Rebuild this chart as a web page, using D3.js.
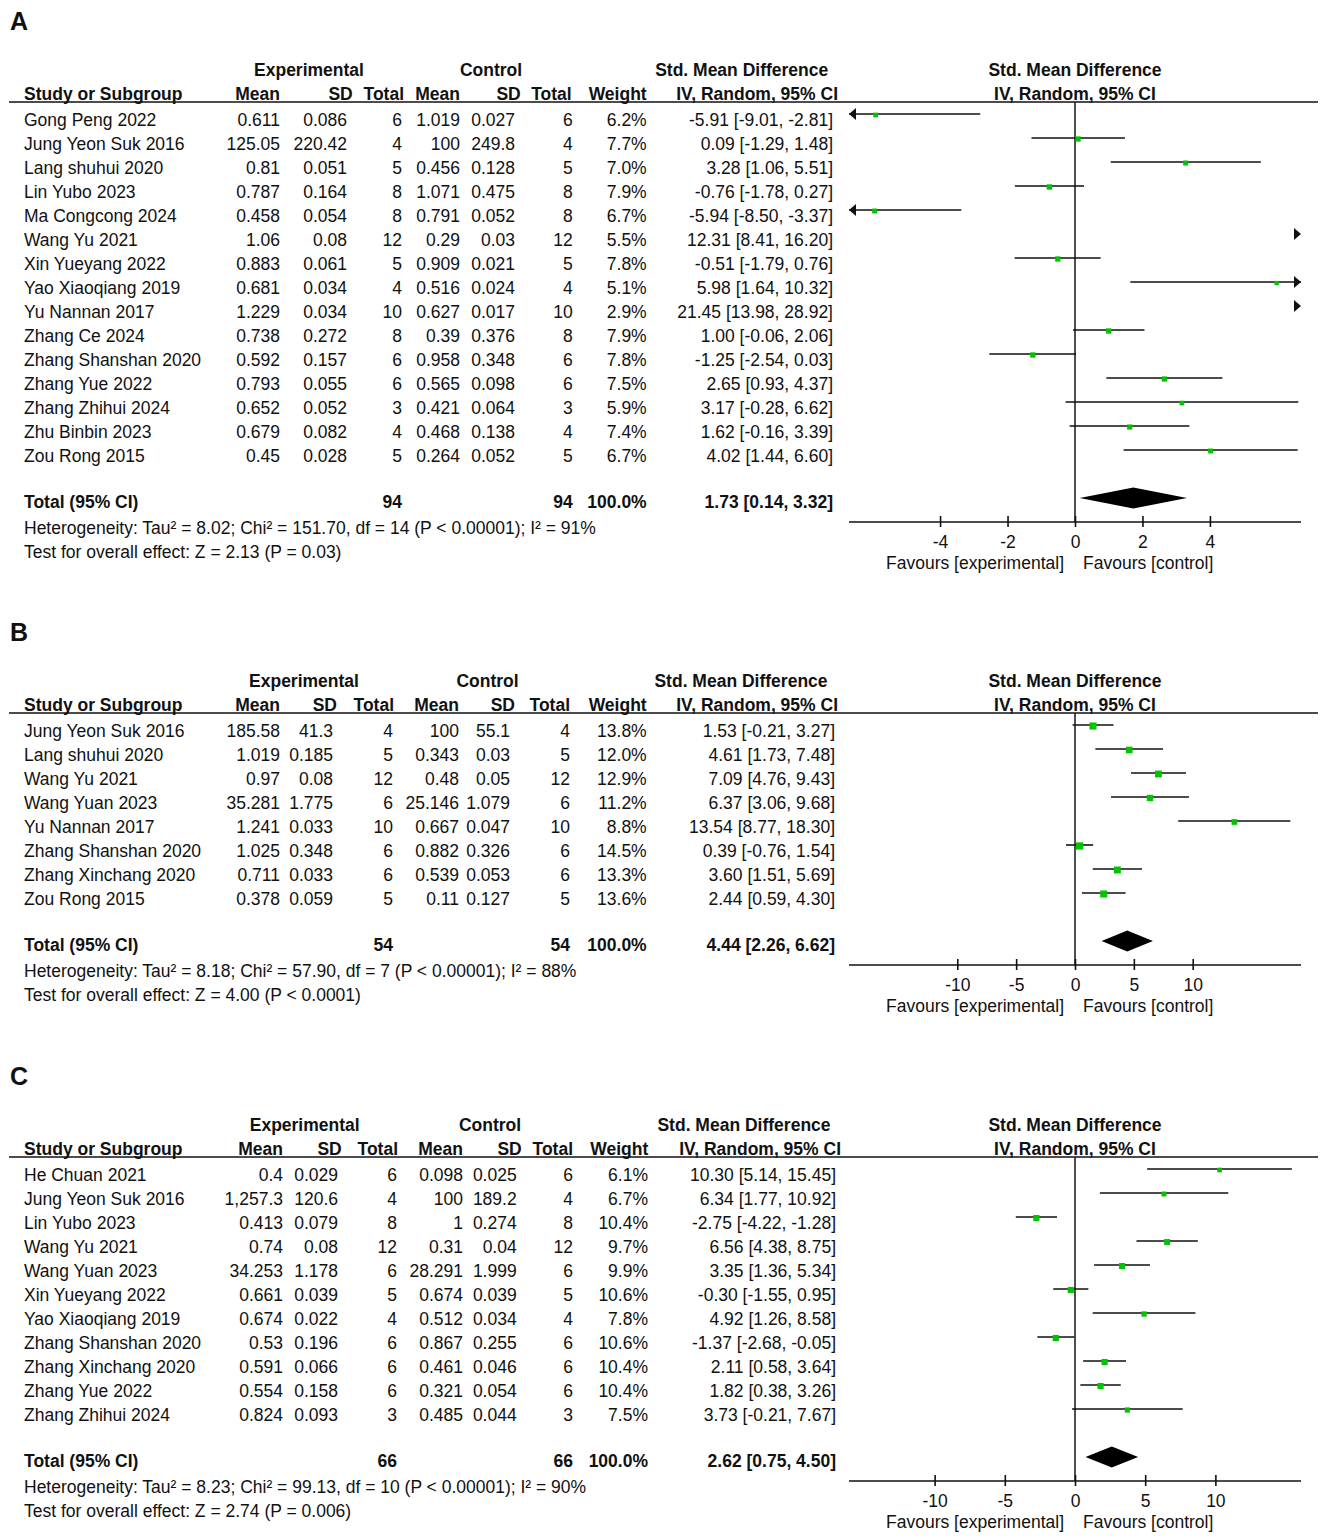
<!DOCTYPE html>
<html>
<head>
<meta charset="utf-8">
<script src="https://cdn.jsdelivr.net/npm/d3@7"></script>
<style>
  body { margin: 0; background: #fff; }
  svg { display: block; }
  text { font-family: "Liberation Sans", Arial, sans-serif; font-size: 17.5px; fill: #111; }
  .b { font-weight: bold; }
</style>
</head>
<body>
<svg width="1325" height="1538"></svg>
<script>
// ---- panel A data
const studiesA = ['Gong Peng 2022', 'Jung Yeon Suk 2016', 'Lang shuhui 2020', 'Lin Yubo 2023', 'Ma Congcong 2024',
  'Wang Yu 2021', 'Xin Yueyang 2022', 'Yao Xiaoqiang 2019', 'Yu Nannan 2017', 'Zhang Ce 2024',
  'Zhang Shanshan 2020', 'Zhang Yue 2022', 'Zhang Zhihui 2024', 'Zhu Binbin 2023', 'Zou Rong 2015'];
const expMeanA = [0.611, 125.05, 0.81, 0.787, 0.458, 1.06, 0.883, 0.681, 1.229, 0.738, 0.592, 0.793, 0.652, 0.679, 0.45];
const expSdA = [0.086, 220.42, 0.051, 0.164, 0.054, 0.08, 0.061, 0.034, 0.034, 0.272, 0.157, 0.055, 0.052, 0.082, 0.028];
const expNA = [6, 4, 5, 8, 8, 12, 5, 4, 10, 8, 6, 6, 3, 4, 5];
const ctlMeanA = [1.019, 100, 0.456, 1.071, 0.791, 0.29, 0.909, 0.516, 0.627, 0.39, 0.958, 0.565, 0.421, 0.468, 0.264];
const ctlSdA = [0.027, 249.8, 0.128, 0.475, 0.052, 0.03, 0.021, 0.024, 0.017, 0.376, 0.348, 0.098, 0.064, 0.138, 0.052];
const ctlNA = [6, 4, 5, 8, 8, 12, 5, 4, 10, 8, 6, 6, 3, 4, 5];
const weightA = [6.2, 7.7, 7.0, 7.9, 6.7, 5.5, 7.8, 5.1, 2.9, 7.9, 7.8, 7.5, 5.9, 7.4, 6.7];
const smdA = [-5.91, 0.09, 3.28, -0.76, -5.94, 12.31, -0.51, 5.98, 21.45, 1.00, -1.25, 2.65, 3.17, 1.62, 4.02];
const loA = [-9.01, -1.29, 1.06, -1.78, -8.50, 8.41, -1.79, 1.64, 13.98, -0.06, -2.54, 0.93, -0.28, -0.16, 1.44];
const hiA = [-2.81, 1.48, 5.51, 0.27, -3.37, 16.20, 0.76, 10.32, 28.92, 2.06, 0.03, 4.37, 6.62, 3.39, 6.60];
const totalA = [94, 94, 100.0, 1.73, 0.14, 3.32];
const hetA = 'Heterogeneity: Tau² = 8.02; Chi² = 151.70, df = 14 (P < 0.00001); I² = 91%';
const testA = 'Test for overall effect: Z = 2.13 (P = 0.03)';
const ticksA = [-4, -2, 0, 2, 4];

// ---- panel B data
const studiesB = ['Jung Yeon Suk 2016', 'Lang shuhui 2020', 'Wang Yu 2021', 'Wang Yuan 2023', 'Yu Nannan 2017',
  'Zhang Shanshan 2020', 'Zhang Xinchang 2020', 'Zou Rong 2015'];
const expMeanB = [185.58, 1.019, 0.97, 35.281, 1.241, 1.025, 0.711, 0.378];
const expSdB = [41.3, 0.185, 0.08, 1.775, 0.033, 0.348, 0.033, 0.059];
const expNB = [4, 5, 12, 6, 10, 6, 6, 5];
const ctlMeanB = [100, 0.343, 0.48, 25.146, 0.667, 0.882, 0.539, 0.11];
const ctlSdB = [55.1, 0.03, 0.05, 1.079, 0.047, 0.326, 0.053, 0.127];
const ctlNB = [4, 5, 12, 6, 10, 6, 6, 5];
const weightB = [13.8, 12.0, 12.9, 11.2, 8.8, 14.5, 13.3, 13.6];
const smdB = [1.53, 4.61, 7.09, 6.37, 13.54, 0.39, 3.60, 2.44];
const loB = [-0.21, 1.73, 4.76, 3.06, 8.77, -0.76, 1.51, 0.59];
const hiB = [3.27, 7.48, 9.43, 9.68, 18.30, 1.54, 5.69, 4.30];
const totalB = [54, 54, 100.0, 4.44, 2.26, 6.62];
const hetB = 'Heterogeneity: Tau² = 8.18; Chi² = 57.90, df = 7 (P < 0.00001); I² = 88%';
const testB = 'Test for overall effect: Z = 4.00 (P < 0.0001)';
const ticksB = [-10, -5, 0, 5, 10];

// ---- panel C data
const studiesC = ['He Chuan 2021', 'Jung Yeon Suk 2016', 'Lin Yubo 2023', 'Wang Yu 2021', 'Wang Yuan 2023',
  'Xin Yueyang 2022', 'Yao Xiaoqiang 2019', 'Zhang Shanshan 2020', 'Zhang Xinchang 2020', 'Zhang Yue 2022',
  'Zhang Zhihui 2024'];
const expMeanC = [0.4, 1257.3, 0.413, 0.74, 34.253, 0.661, 0.674, 0.53, 0.591, 0.554, 0.824];
const expSdC = [0.029, 120.6, 0.079, 0.08, 1.178, 0.039, 0.022, 0.196, 0.066, 0.158, 0.093];
const expNC = [6, 4, 8, 12, 6, 5, 4, 6, 6, 6, 3];
const ctlMeanC = [0.098, 100, 1, 0.31, 28.291, 0.674, 0.512, 0.867, 0.461, 0.321, 0.485];
const ctlSdC = [0.025, 189.2, 0.274, 0.04, 1.999, 0.039, 0.034, 0.255, 0.046, 0.054, 0.044];
const ctlNC = [6, 4, 8, 12, 6, 5, 4, 6, 6, 6, 3];
const weightC = [6.1, 6.7, 10.4, 9.7, 9.9, 10.6, 7.8, 10.6, 10.4, 10.4, 7.5];
const smdC = [10.30, 6.34, -2.75, 6.56, 3.35, -0.30, 4.92, -1.37, 2.11, 1.82, 3.73];
const loC = [5.14, 1.77, -4.22, 4.38, 1.36, -1.55, 1.26, -2.68, 0.58, 0.38, -0.21];
const hiC = [15.45, 10.92, -1.28, 8.75, 5.34, 0.95, 8.58, -0.05, 3.64, 3.26, 7.67];
const totalC = [66, 66, 100.0, 2.62, 0.75, 4.50];
const hetC = 'Heterogeneity: Tau² = 8.23; Chi² = 99.13, df = 10 (P < 0.00001); I² = 90%';
const testC = 'Test for overall effect: Z = 2.74 (P = 0.006)';
const ticksC = [-10, -5, 0, 5, 10];

const svg = d3.select('svg');
const green = '#00c400';
const numFmt = d3.format(',');
const f2 = v => v.toFixed(2); // plain hyphen minus, like RevMan
const ciText = (e, l, h) => `${f2(e)} [${f2(l)}, ${f2(h)}]`;

function drawPanel(p) {
  const H = p.top; // header line y
  const g = svg.append('g');
  const x = d3.scaleLinear().domain([-p.dom, p.dom]).range([849, 1301]);
  const n = p.studies.length;
  const rowBase = i => H + 25 + 24 * i;
  const totBase = rowBase(n - 1) + 46;
  const axisY = totBase + 14;

  g.append('text').attr('class', 'b').attr('x', 10).attr('y', H - 71)
    .style('font-size', '25px').text(p.letter);

  // group headers
  g.append('text').attr('class', 'b').attr('x', p.grp[0]).attr('y', H - 25).attr('text-anchor', 'middle').text('Experimental');
  g.append('text').attr('class', 'b').attr('x', p.grp[1]).attr('y', H - 25).attr('text-anchor', 'middle').text('Control');
  g.append('text').attr('class', 'b').attr('x', p.grp[2]).attr('y', H - 25).attr('text-anchor', 'middle').text('Std. Mean Difference');
  g.append('text').attr('class', 'b').attr('x', 1075).attr('y', H - 25).attr('text-anchor', 'middle').text('Std. Mean Difference');

  // column headers
  g.append('text').attr('class', 'b').attr('x', 24).attr('y', H - 1).text('Study or Subgroup');
  ['Mean', 'SD', 'Total', 'Mean', 'SD', 'Total', 'Weight'].forEach((t, k) => {
    g.append('text').attr('class', 'b').attr('x', p.hdr[k]).attr('y', H - 1).attr('text-anchor', 'end').text(t);
  });
  g.append('text').attr('class', 'b').attr('x', p.hdr[7]).attr('y', H - 1).attr('text-anchor', 'end').text('IV, Random, 95% CI');
  g.append('text').attr('class', 'b').attr('x', 1075).attr('y', H - 1).attr('text-anchor', 'middle').text('IV, Random, 95% CI');

  g.append('line').attr('x1', 9).attr('x2', 1318).attr('y1', H + 1).attr('y2', H + 1)
    .attr('stroke', '#111').attr('stroke-width', 1.6);

  // study rows (table)
  p.studies.forEach((s, i) => {
    const y = rowBase(i);
    const cells = [numFmt(p.em[i]), numFmt(p.es[i]), p.en[i], numFmt(p.cm[i]), numFmt(p.cs[i]), p.cn[i],
      p.w[i].toFixed(1) + '%', ciText(p.smd[i], p.lo[i], p.hi[i])];
    g.append('text').attr('x', 24).attr('y', y).text(s);
    cells.forEach((c, k) => {
      g.append('text').attr('x', p.col[k]).attr('y', y).attr('text-anchor', 'end').text(c);
    });
  });

  // total row
  g.append('text').attr('class', 'b').attr('x', 24).attr('y', totBase).text('Total (95% CI)');
  [[2, p.total[0]], [5, p.total[1]], [6, p.total[2].toFixed(1) + '%'],
   [7, ciText(p.total[3], p.total[4], p.total[5])]].forEach(([k, t]) => {
    g.append('text').attr('class', 'b').attr('x', p.col[k]).attr('y', totBase).attr('text-anchor', 'end').text(t);
  });
  g.append('text').attr('x', 24).attr('y', totBase + 26).text(p.het);
  g.append('text').attr('x', 24).attr('y', totBase + 50).text(p.test);

  // zero line
  g.append('line').attr('x1', x(0)).attr('x2', x(0)).attr('y1', H + 1).attr('y2', axisY)
    .attr('stroke', '#222').attr('stroke-width', 1.6);

  // CI lines, squares, arrows
  const D = p.dom;
  const arrow = (xe, y, dir) => `M${xe},${y} L${xe - dir * 7},${y - 6} L${xe - dir * 7},${y + 6} Z`;
  p.studies.forEach((s, i) => {
    const y = rowBase(i) - 12;
    const lo = p.lo[i], hi = p.hi[i], est = p.smd[i];
    if (lo > D) {
      g.append('path').attr('d', arrow(x(D), y, 1)).attr('fill', '#111');
      return;
    }
    if (hi < -D) {
      g.append('path').attr('d', arrow(x(-D), y, -1)).attr('fill', '#111');
      return;
    }
    const x1 = x(Math.max(lo, -D)), x2 = x(Math.min(hi, D));
    g.append('line').attr('x1', x1).attr('x2', x2).attr('y1', y).attr('y2', y)
      .attr('stroke', '#111').attr('stroke-width', 1.6);
    if (lo < -D) g.append('path').attr('d', arrow(x(-D), y, -1)).attr('fill', '#111');
    if (hi > D) g.append('path').attr('d', arrow(x(D), y, 1)).attr('fill', '#111');
    if (est >= -D && est <= D) {
      const sz = 1.9 * Math.sqrt(p.w[i]);
      g.append('rect').attr('x', x(est) - sz / 2).attr('y', y + 1 - sz / 2)
        .attr('width', sz).attr('height', sz).attr('fill', green);
    }
  });

  // diamond
  const cy = totBase - 10;
  const [, , , te, tl, th] = p.total;
  g.append('path')
    .attr('d', `M${x(tl)},${cy} L${x(te)},${cy - 10.5} L${x(th)},${cy} L${x(te)},${cy + 10.5} Z`)
    .attr('fill', '#000');

  // axis
  g.append('line').attr('x1', x(-D)).attr('x2', x(D)).attr('y1', axisY).attr('y2', axisY)
    .attr('stroke', '#111').attr('stroke-width', 1.6);
  const ax = g.append('g').attr('transform', `translate(0,${axisY - 6})`)
    .call(d3.axisBottom(x).tickValues(p.ticks).tickFormat(d => String(d))
      .tickSizeInner(11).tickSizeOuter(0).tickPadding(8.6));
  ax.select('.domain').remove();
  ax.selectAll('.tick line').attr('stroke', '#111').attr('stroke-width', 1.6);
  ax.selectAll('.tick text').attr('font-family', null).attr('font-size', null).attr('fill', '#111');

  g.append('text').attr('x', x(0) - 11).attr('y', axisY + 46.5).attr('text-anchor', 'end').text('Favours [experimental]');
  g.append('text').attr('x', x(0) + 8).attr('y', axisY + 46.5).text('Favours [control]');
}

drawPanel({
  letter: 'A', top: 101, dom: 6.7, ticks: ticksA,
  studies: studiesA, em: expMeanA, es: expSdA, en: expNA, cm: ctlMeanA, cs: ctlSdA, cn: ctlNA,
  w: weightA, smd: smdA, lo: loA, hi: hiA, total: totalA, het: hetA, test: testA,
  col: [280, 347, 402, 460, 515, 572.7, 646.7, 833],
  hdr: [280, 352.7, 404, 460, 520.7, 571.7, 646.7, 838],
  grp: [309, 491, 741.7]
});
drawPanel({
  letter: 'B', top: 712, dom: 19.2, ticks: ticksB,
  studies: studiesB, em: expMeanB, es: expSdB, en: expNB, cm: ctlMeanB, cs: ctlSdB, cn: ctlNB,
  w: weightB, smd: smdB, lo: loB, hi: hiB, total: totalB, het: hetB, test: testB,
  col: [280, 333, 393, 459, 510, 570, 646.7, 835],
  hdr: [280, 337, 394, 459, 515, 570, 646.7, 838],
  grp: [304, 487.5, 741]
});
drawPanel({
  letter: 'C', top: 1156, dom: 16.1, ticks: ticksC,
  studies: studiesC, em: expMeanC, es: expSdC, en: expNC, cm: ctlMeanC, cs: ctlSdC, cn: ctlNC,
  w: weightC, smd: smdC, lo: loC, hi: hiC, total: totalC, het: hetC, test: testC,
  col: [283, 338, 397, 463, 516.7, 573, 648, 836],
  hdr: [283, 341.7, 398, 463, 521.7, 573, 648.3, 841],
  grp: [304.7, 490, 744]
});
</script>
</body>
</html>
